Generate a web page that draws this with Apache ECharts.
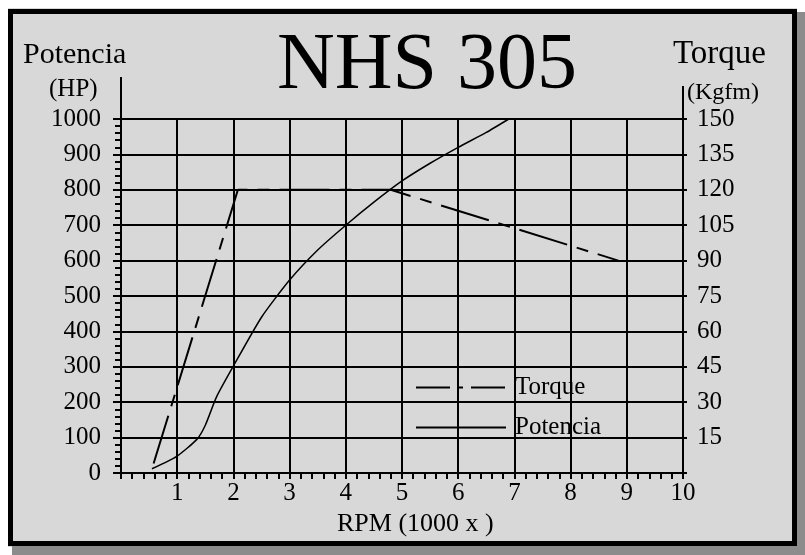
<!DOCTYPE html>
<html>
<head>
<meta charset="utf-8">
<script src="https://cdn.jsdelivr.net/npm/echarts@6/dist/echarts.min.js"></script>
<style>
  html, body { margin: 0; padding: 0; background: #fff; }
  #main { width: 805px; height: 555px; }
</style>
</head>
<body>
<div id="main"></div>
<script>
// power curve (HP) vs rpm (x1000)
var rpmPower = [0.55, 1.0, 1.35, 1.5, 1.7, 2.0, 2.5, 3.0, 3.5, 4.0, 4.5, 5.0, 5.5, 6.0, 6.5, 6.9];
var hpPower = [12, 48, 95, 135, 215, 302, 440, 545, 630, 700, 765, 825, 875, 920, 962, 1000];

// torque curve (Kgfm) vs rpm (x1000)
var rpmTorque = [0.58, 2.08, 4.8, 8.85];
var kgfmTorque = [4, 120, 120, 90];

var serif = 'Liberation Serif';

function zip(a, b) {
    var out = [];
    for (var i = 0; i < a.length; i++) out.push([a[i], b[i]]);
    return out;
}

// plain numbers, no thousands separator, nothing at zero
function noZero(v) { return v === 0 ? '' : String(v); }

var myChart = echarts.init(document.getElementById('main'));
var option = {
    backgroundColor: '#d8d8d8',
    animation: false,
    color: ['#000', '#000'],
    textStyle: { fontFamily: serif, color: '#000' },
    title: [
        { text: 'NHS 305', left: 272, top: 22,
          textStyle: { fontFamily: serif, fontSize: 80, fontWeight: 'normal', color: '#000' } },
        { text: 'Potencia', left: 18, top: 35,
          textStyle: { fontFamily: serif, fontSize: 30, fontWeight: 'normal', color: '#000' } },
        { text: '(HP)', left: 44, top: 72,
          textStyle: { fontFamily: serif, fontSize: 25, fontWeight: 'normal', color: '#000' } },
        { text: 'Torque', left: 668, top: 33,
          textStyle: { fontFamily: serif, fontSize: 33, fontWeight: 'normal', color: '#000' } },
        { text: '(Kgfm)', left: 682, top: 76,
          textStyle: { fontFamily: serif, fontSize: 24, fontWeight: 'normal', color: '#000' } },
        { text: 'RPM (1000 x )', left: 332, top: 506,
          textStyle: { fontFamily: serif, fontSize: 26, fontWeight: 'normal', color: '#000' } }
    ],
    grid: { left: 121, right: 122, top: 119, bottom: 82, containLabel: false },
    legend: {
        orient: 'vertical',
        left: 410,
        top: 370,
        itemWidth: 90,
        itemHeight: 22,
        itemGap: 15,
        textStyle: { fontFamily: serif, fontSize: 25, color: '#000', padding: [0, 0, 0, 4] },
        data: [
            { name: 'Torque',
              itemStyle: { color: 'rgba(0,0,0,0)', borderWidth: 0 },
              lineStyle: { type: [34, 8, 5, 8], width: 2, color: '#000' } },
            { name: 'Potencia',
              itemStyle: { color: 'rgba(0,0,0,0)', borderWidth: 0 },
              lineStyle: { type: 'solid', width: 2, color: '#000' } }
        ]
    },
    xAxis: {
        type: 'value',
        min: 0,
        max: 10,
        interval: 1,
        axisLine: { show: true, onZero: false, lineStyle: { color: '#000', width: 2 } },
        axisTick: { show: true, length: 6, lineStyle: { color: '#000', width: 2 } },
        minorTick: { show: true, splitNumber: 5, length: 6, lineStyle: { color: '#000', width: 2 } },
        splitLine: { show: true, lineStyle: { color: '#000', width: 2 } },
        axisLabel: { margin: 8, fontFamily: serif, fontSize: 25, color: '#000', formatter: noZero }
    },
    yAxis: [{
        type: 'value',
        position: 'left',
        min: 0,
        max: 1000,
        interval: 100,
        axisLine: { show: true, lineStyle: { color: '#000', width: 2 } },
        axisTick: { show: true, length: 8, lineStyle: { color: '#000', width: 2 } },
        minorTick: { show: true, splitNumber: 5, length: 6, lineStyle: { color: '#000', width: 2 } },
        splitLine: { show: true, lineStyle: { color: '#000', width: 2 } },
        axisLabel: { margin: 20, fontFamily: serif, fontSize: 25, color: '#000',
                     formatter: function (v) { return String(v); } }
    }, {
        type: 'value',
        position: 'right',
        min: 0,
        max: 150,
        interval: 15,
        axisLine: { show: true, lineStyle: { color: '#000', width: 2 } },
        axisTick: { show: true, length: 4, lineStyle: { color: '#000', width: 2 } },
        splitLine: { show: false },
        axisLabel: { margin: 14, fontFamily: serif, fontSize: 25, color: '#000', formatter: noZero }
    }],
    graphic: [
        // white outer margin
        { type: 'rect', silent: true, shape: { x: 0, y: 0, width: 805, height: 555 },
          style: { fill: 'none', stroke: '#fff', lineWidth: 16 } },
        // drop shadow right and bottom
        { type: 'rect', silent: true, shape: { x: 797, y: 12, width: 8, height: 543 }, style: { fill: '#8c8c8c' } },
        { type: 'rect', silent: true, shape: { x: 12, y: 546, width: 793, height: 9 }, style: { fill: '#8c8c8c' } },
        // black frame
        { type: 'rect', silent: true, shape: { x: 10.5, y: 11.5, width: 784, height: 532 },
          style: { fill: 'none', stroke: '#000', lineWidth: 5 } },
        // axis lines run up past the grid
        { type: 'line', silent: true, shape: { x1: 121, y1: 77, x2: 121, y2: 119 },
          style: { stroke: '#000', lineWidth: 2 } },
        { type: 'line', silent: true, shape: { x1: 683, y1: 86, x2: 683, y2: 119 },
          style: { stroke: '#000', lineWidth: 2 } }
    ],
    series: [{
        name: 'Torque',
        type: 'line',
        yAxisIndex: 1,
        symbol: 'none',
        showSymbol: false,
        itemStyle: { color: '#000' },
        lineStyle: { color: '#000', width: 2, type: [50, 10, 12, 10] },
        data: zip(rpmTorque, kgfmTorque),
        z: 5
    }, {
        name: 'Potencia',
        type: 'line',
        yAxisIndex: 0,
        symbol: 'none',
        showSymbol: false,
        smooth: 0.2,
        itemStyle: { color: '#000' },
        lineStyle: { color: '#000', width: 1.5 },
        data: zip(rpmPower, hpPower),
        z: 5
    }]
};
myChart.setOption(option);
</script>
</body>
</html>
